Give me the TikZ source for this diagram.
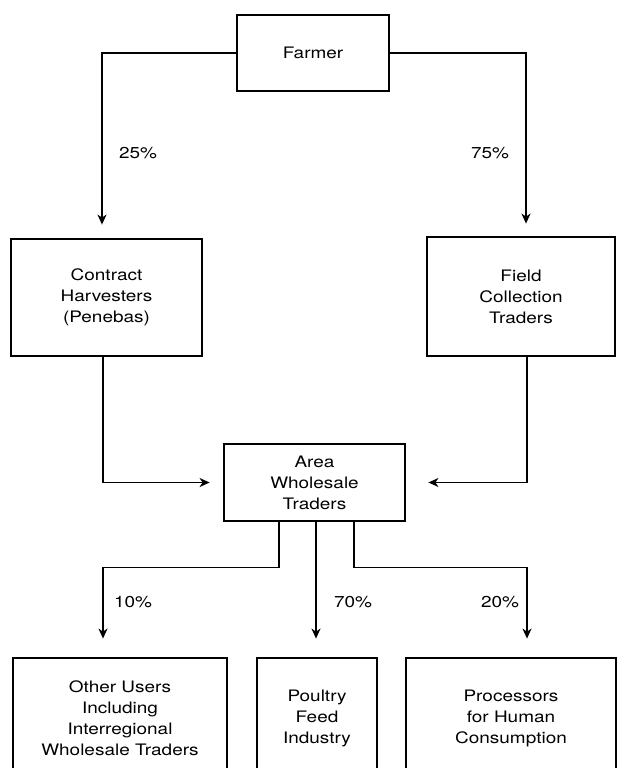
\documentclass[tikz,border=0pt]{standalone}
\usepackage{fontspec}
\setmainfont[FakeStretch=1.2]{TeX Gyre Heros}
\usetikzlibrary{arrows.meta}
\tikzset{
	box/.style={draw, line width=2.8pt, align=center, inner sep=0pt, font=\fontsize{15.8}{21}\selectfont},
	flow/.style={line width=1.4pt, -{Stealth[length=10pt,width=9pt,inset=3pt]}},
	share/.style={font=\fontsize{15.8}{18}\selectfont}
}

\begin{document}
\begin{tikzpicture}[x=1pt, y=-1pt]
			%%%%% START %%%%%
			\useasboundingbox (0,0) rectangle (616,768);
			
			\node[box, minimum width=152pt, minimum height=76pt] (farmer) at (313,53) {Farmer};
			
			\node[box, minimum width=191pt, minimum height=117pt] (harv) at (106.5,297.5) {Contract\\Harvesters\\(Penebas)};
			\node[box, minimum width=188pt, minimum height=119pt] (field) at (521,296.5) {Field\\Collection\\Traders};
			
			\node[box, minimum width=181pt, minimum height=77pt] (area) at (314.5,482.5) {Area\\Wholesale\\Traders};
			
			\node[box, minimum width=214pt, minimum height=120pt] (other) at (120,718) {Other Users\\Including\\Interregional\\Wholesale Traders};
			\node[box, minimum width=120pt, minimum height=120pt] (poultry) at (317,718) {Poultry\\Feed\\Industry};
			\node[box, minimum width=210pt, minimum height=120pt] (proc) at (511,718) {Processors\\for Human\\Consumption};
			
			\node[share] (p25) at (138,153) {25\%};
			\node[share] (p75) at (490,153) {75\%};
			\node[share] (p10) at (133,602) {10\%};
			\node[share] (p70) at (353,602) {70\%};
			\node[share] (p20) at (500,602) {20\%};
			
			\draw[flow, shorten >=13pt] (farmer.west) -| ([xshift=-4.5pt]harv.north);
			\draw[flow, shorten >=12pt] (farmer.east) -| ([xshift=5pt]field.north);
			
			\draw[flow, shorten >=13pt] ([xshift=-3.5pt]harv.south) |- (area.west);
			\draw[flow, shorten >=22pt] ([xshift=6pt]field.south) |- (area.east);
			
			\coordinate (o1) at ([xshift=-35.5pt]area.south);
			\coordinate (o2) at ([xshift=1.5pt]area.south);
			\coordinate (o3) at ([xshift=39.5pt]area.south);
			\draw[flow, shorten >=18pt] (o1) -- ++(0,45) -| ([xshift=-17pt]other.north);
			\draw[flow, shorten >=18pt] (o2) -- (o2 |- poultry.north);
			\draw[flow, shorten >=18pt] (o3) -- ++(0,45) -| ([xshift=16pt]proc.north);
			
			%%%%% END %%%%%
\end{tikzpicture}
\end{document}
